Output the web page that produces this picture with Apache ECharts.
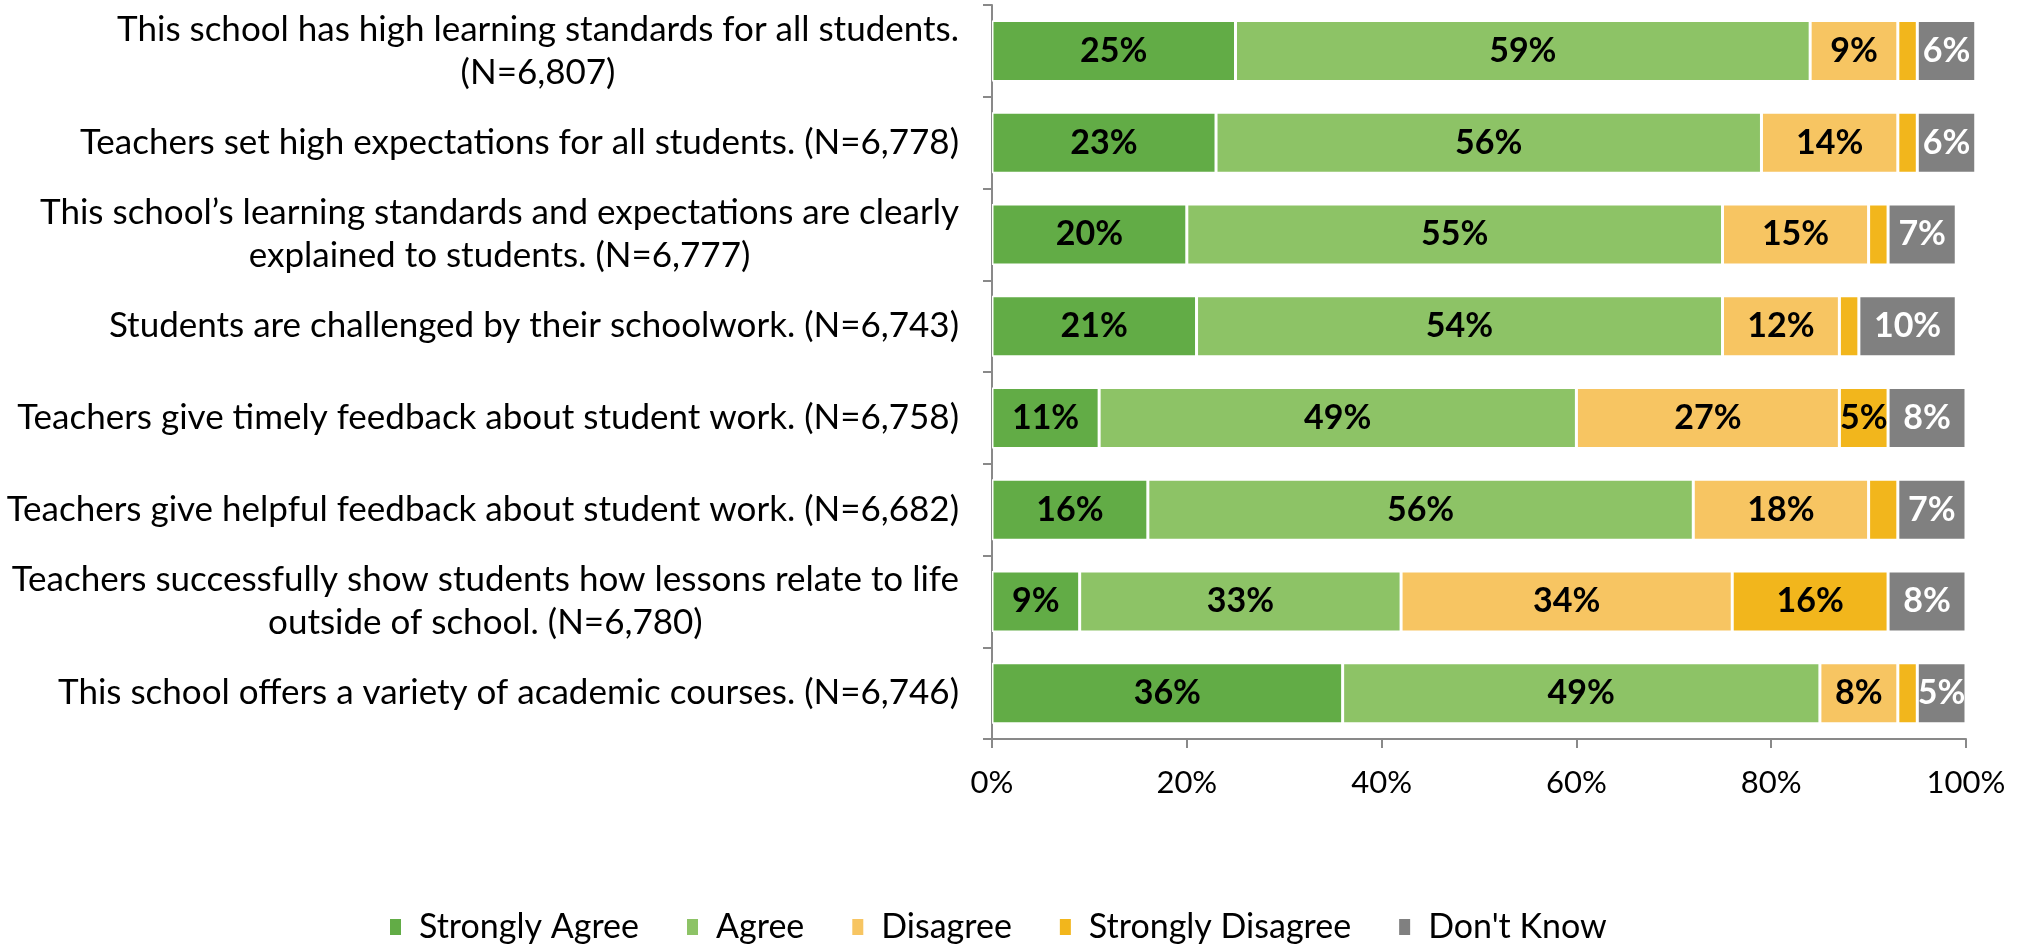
<!DOCTYPE html>
<html>
<head>
<meta charset="utf-8">
<script src="https://cdn.jsdelivr.net/npm/echarts@6/dist/echarts.min.js"></script>
<style>
html,body{margin:0;padding:0;background:#fff;}
#chart{width:2026px;height:945px;}
</style>
</head>
<body>
<div id="chart"></div>
<script>
const categories = [
  'This school has high learning standards for all students.\n(N=6,807)',
  'Teachers set high expectations for all students. (N=6,778)',
  'This school\u2019s learning standards and expectations are clearly\nexplained to students. (N=6,777)',
  'Students are challenged by their schoolwork. (N=6,743)',
  'Teachers give timely feedback about student work. (N=6,758)',
  'Teachers give helpful feedback about student work. (N=6,682)',
  'Teachers successfully show students how lessons relate to life\noutside of school. (N=6,780)',
  'This school offers a variety of academic courses. (N=6,746)'
];
const seriesNames = ['Strongly Agree', 'Agree', 'Disagree', 'Strongly Disagree', "Don't Know"];
const stronglyAgree    = [25, 23, 20, 21, 11, 16, 9, 36];
const agree            = [59, 56, 55, 54, 49, 56, 33, 49];
const disagree         = [9, 14, 15, 12, 27, 18, 34, 8];
const stronglyDisagree = [2, 2, 2, 2, 5, 3, 16, 2];
const dontKnow         = [6, 6, 7, 10, 8, 7, 8, 5];
const xTicks = [0, 20, 40, 60, 80, 100];

const colors = ['#62AC46', '#8DC366', '#F7C562', '#F2B61C', '#808080'];
const labelColors = ['#000', '#000', '#000', '#000', '#fff'];
const FONT = 'Lato, "Open Sans", "Liberation Sans", sans-serif';
const allData = [stronglyAgree, agree, disagree, stronglyDisagree, dontKnow];

const chart = echarts.init(document.getElementById('chart'), null, {renderer: 'canvas'});
const option = {
  animation: false,
  backgroundColor: '#fff',
  grid: {left: 992, right: 60, top: 5, bottom: 206, containLabel: false},
  legend: {
    data: seriesNames,
    top: 905,
    left: 383,
    icon: 'rect',
    itemWidth: 13,
    itemHeight: 18,
    itemGap: 46,
    textStyle: {fontFamily: FONT, fontSize: 34, color: '#000', padding: [0, 0, 0, 12]}
  },
  xAxis: {
    type: 'value',
    min: xTicks[0],
    max: xTicks[xTicks.length - 1],
    interval: 20,
    axisLine: {show: true, lineStyle: {color: '#898989', width: 2}},
    axisTick: {show: true, length: 9, lineStyle: {color: '#898989', width: 2}},
    splitLine: {show: false},
    axisLabel: {fontFamily: FONT, fontSize: 31, color: '#000', margin: 28, formatter: v => v + '%'}
  },
  yAxis: {
    type: 'category',
    inverse: true,
    data: categories,
    axisLine: {show: true, lineStyle: {color: '#898989', width: 2}},
    axisTick: {show: true, length: 9, lineStyle: {color: '#898989', width: 2}},
    axisLabel: {
      margin: 33,
      align: 'right',
      formatter: v => v.split('\n').map(p => '{c|' + p + '}').join('\n'),
      rich: {c: {align: 'center', fontFamily: FONT, fontSize: 35, color: '#000', lineHeight: 43}}
    }
  },
  series: seriesNames.map((name, i) => ({
    name: name,
    type: 'bar',
    stack: 'total',
    barWidth: 61,
    clip: false,
    data: allData[i],
    itemStyle: {color: colors[i], borderColor: '#fff', borderWidth: 1.5},
    label: {
      show: true,
      position: 'inside',
      fontFamily: FONT,
      fontWeight: 'bold',
      fontSize: 34,
      color: labelColors[i],
      formatter: p => (p.value >= 4 ? p.value + '%' : '')
    }
  }))
};
chart.setOption(option);
</script>
</body>
</html>
